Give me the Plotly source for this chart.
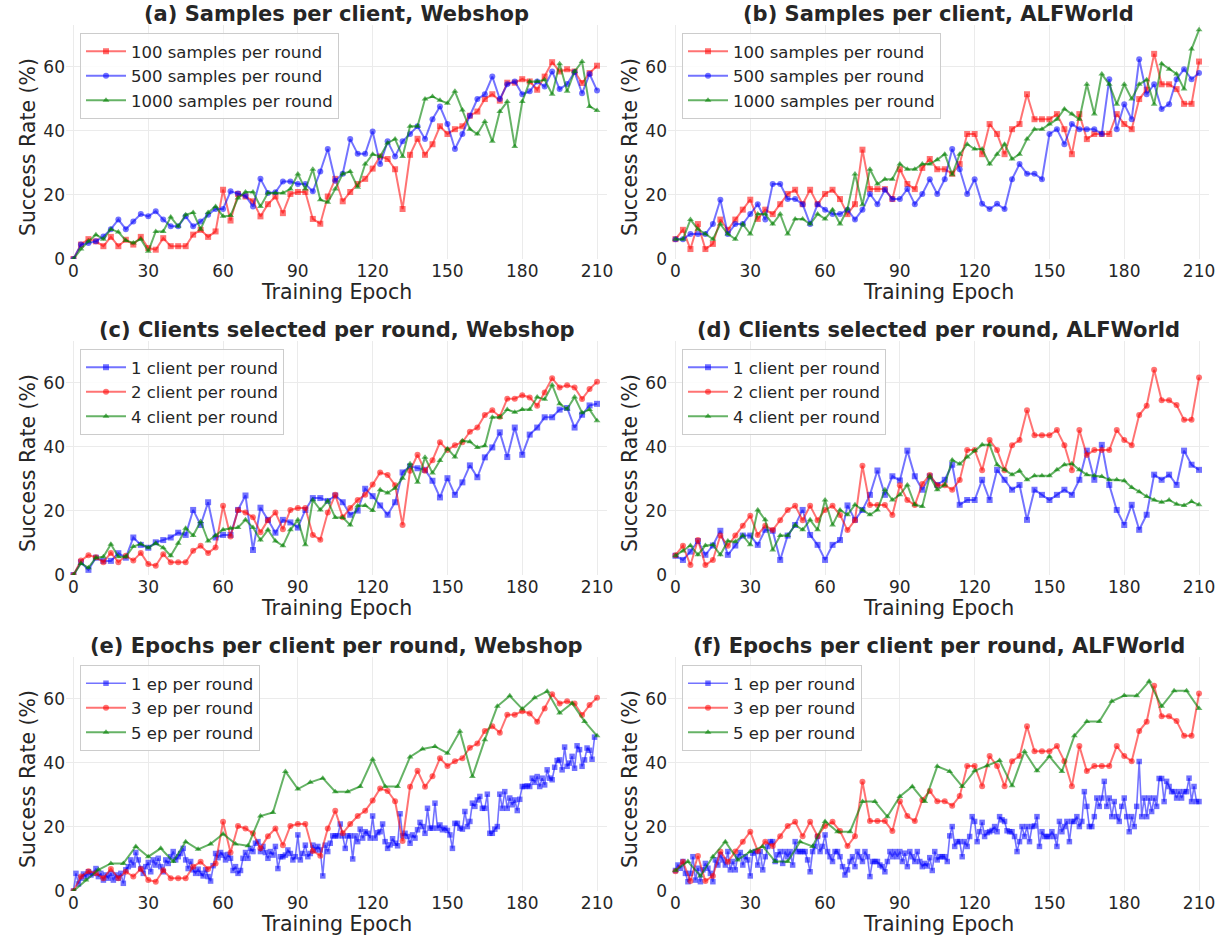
import plotly.graph_objects as go

# ---------------- data ----------------
EPOCHS_3 = list(range(0, 211, 3))
EPOCHS_5 = list(range(0, 211, 5))
EPOCHS_1 = list(range(0, 211))
X_TICKS = [0, 30, 60, 90, 120, 150, 180, 210]
Y_TICKS = [0, 20, 40, 60]

# Webshop default config (100 samples / 2 clients / 3 ep)
web_default = [0, 4.5, 6.2, 5.5, 4, 6.9, 4, 6, 4.5, 6.9, 3.4, 2.9, 6.5, 4, 4, 4, 7.6, 9.1, 6.9, 8.6,
               21.6, 12, 20.3, 19.5, 18, 13.3, 17.1, 19.5, 14.3, 20.3, 20.9, 20.9, 12.5,
               11, 19.5, 25, 18, 20.9, 23.4, 25, 28.2, 32, 31.2, 28, 15.6, 32.5, 37.5, 32.5, 35.8,
               41.4, 39, 40.5, 41.4, 44.7, 46, 49.9, 51.4, 49.4, 55, 55, 56.1, 55.4, 52.8, 56.9,
               61.4, 58.5, 59.2, 58.5, 54.9, 58, 60.3]
web_500 = [0, 4.5, 5, 5.5, 7, 9.3, 12.3, 9.3, 11.7, 14, 13.3, 14.9, 12.3, 10.2, 10.2, 13.3, 10.2,
           11.7, 13.8, 15.6, 15.6, 21.1, 20.4, 19.7, 16.4, 25, 20.6, 20.8, 24.2, 24.2, 23.4, 23.4, 21.1,
           27.3, 34.3, 24.4, 26.6, 37.4, 32.8, 32.8, 39.8, 29.6, 36.7, 32, 36.7, 39, 41.4, 37.4, 43.6,
           47.6, 42.1, 34.3, 39, 44.7, 49.9, 51.4, 56.9, 49.9, 54.5, 55.4, 51.4, 52.3, 55.4, 53.8,
           58.5, 53, 54.6, 58.3, 51.7, 57.7, 52.6]
web_1000 = [0, 3.1, 5.5, 7.6, 6.2, 9.3, 8.4, 5.8, 5, 6.2, 2.4, 8.6, 8.6, 13.1, 10.2, 13.8, 14.5, 9.3,
            14.5, 16.4, 13.3, 13.6, 19, 20.9, 20.9, 16.4, 20.6, 20.6, 20.6, 21.8, 26.5, 21.8, 28,
            18.5, 17.7, 21.8, 26.6, 27.3, 22.4, 29.6, 32.7, 32, 36.2, 37.4, 32, 41.4, 41.4, 49.9, 50.7,
            49.5, 48.6, 52.3, 46.5, 40.5, 39, 42.9, 36.7, 46, 49.1, 35.1, 49.1, 55.4, 55.4, 55.9,
            51.4, 60.9, 52.3, 58.5, 61.6, 47.6, 46.3]

# ALFWorld default config
alf_default = [6.2, 9.1, 3.1, 10.9, 3.1, 4.7, 12.3, 9.1, 12.3, 15.4, 18.5, 12.5, 15.4, 14, 17.1, 20.3,
               21.6, 17.1, 21.6, 17.1, 20.3, 21.6, 18.7, 14, 17.1, 34.1, 21.8, 21.8, 21.8, 18.7, 28,
               23.4, 21.8,
               28.4, 31.2, 28, 28, 26.6, 29.6, 39, 39, 32.7, 42.1, 39, 32.7, 40.5, 42.1, 51.4, 43.6,
               43.6, 43.6, 45.2, 40.5, 32.7, 45.2, 37.4, 39, 39, 39, 45.2, 42.1, 40.5, 49.9, 52.8,
               64, 54.5, 54.5, 53, 48.4, 48.4, 61.6]
alf_500 = [6.2, 6.2, 7.8, 7.8, 7.8, 10.9, 18.5, 7.8, 10.9, 10.9, 14, 17.1, 12.3, 23.4, 23.4, 18.7,
           18.7, 17.1, 10.9, 17.1, 15.4, 14, 14, 15.4, 12.3, 15.4, 20.3, 17.1, 21.6, 18.7, 18.7, 21.8,
           17.1,
           20.3, 24.9, 20.3, 24.9, 34.3, 28, 20.3, 24.9, 17.2, 15.6, 17.2, 15.6, 24.9, 29.6, 26.6,
           26.6, 24.9, 39, 40.5, 35.8, 42.1, 40.5, 40.5, 40.5, 39, 56.1, 40.5, 48.3, 43.6, 62.3,
           51.4, 54.5, 46.8, 48.3, 56.1, 59.2, 56.1, 58]
alf_1000 = [6.2, 6.2, 12.3, 9.3, 7.8, 6.2, 10.9, 7.8, 6.2, 10.9, 7.8, 14, 14, 10.9, 14, 7.8, 12.5,
            12.5, 10.9, 14, 12.5, 15.4, 10.9, 15.6, 26.5, 16.9, 28, 23.4, 24.9, 24.9, 29.6, 28, 28,
            29.6, 29.6, 31, 32.7, 26.3, 32.7, 35.8, 34.3, 34.3, 29.6, 32.7, 35.8, 31.2, 32.7, 37.4,
            40.5, 40.5, 42.1, 43.6, 46.8, 45.2, 43.6, 54.5, 45.2, 57.7, 54.5, 48.3, 54.5, 49.9, 54.5,
            55.9, 48.3, 60.9, 59.2, 57.7, 53, 65.5, 71.5]

web_1client = [0, 4, 1.6, 5.4, 4.4, 4.4, 6.8, 5.4, 11.7, 9.4, 8.5, 10.2, 10.9, 11.7, 13.2, 12.5, 20.3,
               15.6, 22.7, 11.7, 12.5, 12.5, 20.3, 24.8, 7.8, 21, 17.2, 13.2, 17.2, 16.4, 14.8, 20.3, 24,
               24, 23.1, 24.8, 22.7, 18.8, 20.1, 26.9, 24.6, 21.7, 18.8, 22.7, 32, 33.9, 33.3, 32.8,
               29.4, 24.2, 30.2, 25, 28.9, 34.2, 30.5, 36.7, 39.8, 44.5, 36.8, 46, 37.5, 43.8, 46,
               49.2, 49.2, 51.6, 52.1, 46, 50, 52.9, 53.4]
web_4client = [0, 3.6, 2.3, 5.4, 5.7, 9.6, 5.7, 5.7, 8.9, 9.7, 8.5, 9.9, 8.5, 6, 9.9, 14.6, 12.3,
               16.7, 10.6, 12.3, 14.1, 14.6, 14.8, 17.2, 14.8, 10.9, 14.1, 10.6, 9.1, 14.1, 17.2, 9.4,
               23.4,
               20.3, 23.1, 17.9, 17.9, 15.6, 21.6, 21.7, 20.1, 26.6, 25.6, 27.1, 30.2, 34.7, 28.9,
               36.7, 31.8, 35.7, 39.4, 36.8, 41.9, 41.6, 39.8, 40.3, 49.2, 49.2, 51.6, 50.8, 51.6,
               51.6, 55.5, 54.8, 59.3, 53.4, 51.8, 55.5, 50.6, 51.6, 48.1]
alf_1client = [6, 4.7, 7.3, 10.6, 6.3, 9.2, 13.8, 6.3, 9.2, 12.3, 12.3, 9.4, 14.1, 13.8, 4.7, 12.3,
               15.6, 20.3, 12.5, 9.4, 4.7, 9.4, 10.9, 21.7, 17.2, 20.3, 25, 32.6, 25, 30.8, 29.5,
               38.8, 30.8,
               26.6, 30.8, 28.1, 29.7, 34.4, 21.9, 23.4, 23.4, 29.7, 23.4, 32.8, 29.7, 26.6, 28.1,
               17.2, 26.6, 25, 23.4, 25, 26.6, 25, 29.7, 38.8, 29.7, 40.6, 28.1, 20.3, 15.6, 21.9,
               14.1, 18.8, 31.3, 29.7, 31.3, 28.1, 38.8, 34.4, 32.8]
alf_4client = [6, 7.5, 9.2, 6.3, 9.2, 9.4, 6.3, 10.6, 10.4, 12.3, 9.4, 20.3, 17.2, 7.8, 12.3, 12.3,
               15.6, 14.1, 17.2, 14.1, 23.4, 15.6, 20.3, 18.8, 21.9, 20.3, 18.8, 20.3, 26.6, 23.4, 25,
               28.1, 21.9,
               21.4, 30.8, 26.6, 28.1, 35.9, 34.6, 36.8, 38.8, 40.6, 40.6, 34.4, 32.8, 31.3, 32.5,
               29.7, 31, 31, 31, 32.8, 34.4, 34.7, 32.8, 31.3, 31, 30.7, 29.7, 29.7, 29.4, 27.3, 26,
               24.5, 23.4, 22.7, 23.4, 22.1, 21.7, 22.9, 21.9]

web_1ep = [0, 5.5, 2.2, 4, 5.3, 4.5, 6, 5, 5.5, 7,
           4.5, 5.5, 3.4, 5, 4, 5.5, 3.4, 5, 4, 5.5,
           2.4, 6.6, 7.6, 9.7, 8.1, 12, 9.7, 7, 5.5, 7.6,
           8.9, 6, 9.7, 8.1, 10.2, 7.6, 6, 9.7, 8.6, 10.7,
           12.3, 9.7, 10.7, 11.7, 13.3, 9.7, 7, 9.2, 6.6, 5.5,
           6.8, 5.5, 4.7, 6.6, 4.5, 3.1, 7.9, 11.7, 10.4, 12,
           11.2, 9.7, 11.4, 10.2, 6.4, 7.6, 5.5, 6.4, 10.2, 12,
           10.2, 13.3, 12.3, 14.9, 15.4, 12.3, 13.9, 12, 10.2, 12.3,
           11.2, 13.9, 7, 10.7, 10.7, 11.2, 12.8, 11.7, 9.7, 10.7,
           17.5, 9.7, 11.7, 14.3, 10.7, 11.7, 14.3, 12.8, 13.9, 12.8,
           4.7, 14.3, 12.3, 14.9, 17.2, 17.2, 17.2, 20.9, 17.2, 13.3,
           17.2, 17.2, 10.0, 17.2, 15.4, 19.3, 16.5, 18.5, 18.0, 16.5,
           23.4, 16.5, 18.2, 18.5, 20.9, 15.4, 13.3, 14.4, 16.3, 14.9,
           14.1, 24.1, 17.2, 18.0, 17.0, 14.9, 17.5, 16.5, 19.1, 21.4,
           20.1, 18.0, 25.8, 19.6, 19.6, 27.4, 19.6, 20.6, 19.1, 19.6,
           18.9, 17.5, 13.3, 21.1, 21.1, 19.6, 19.3, 24.8, 20.1, 21.7,
           27.4, 26.4, 28.4, 29.5, 25.8, 25.8, 30.2, 18.0, 18.0, 19.3,
           20.1, 30.2, 25.8, 31.0, 25.8, 29.0, 26.9, 28.4, 25.1, 28.6,
           32.6, 32.6, 32.8, 32.6, 35.2, 33.9, 35.7, 32.6, 35.2, 33.1,
           37.8, 35.2, 34.7, 38.6, 40.7, 40.9, 37.8, 44.9, 38.9, 39.9,
           42.0, 38.3, 45.3, 44.1, 38.9, 40.9, 44.6, 43.9, 41.1, 48.0]
web_5ep = [0, 3.4, 6.6, 8.6, 8.6, 13.9, 10.7, 13.3, 9.2, 15.4, 13, 14.7, 17.8, 14.7, 14.1, 23.4,
           24.5, 37.3, 31.8, 33.9, 35.2, 31, 31, 32.6, 41.1, 32.6, 32.6, 41.8, 44.3, 45.1, 43, 49.8,
           35.7, 47.2, 57.6, 60.9, 56.8, 60.3, 62.3, 55.5, 58.6, 52.9, 48.4]
alf_1ep = [6.4, 8.1, 7.1, 9.2, 5.5, 2.9, 5.5, 10.7, 3.4, 7.1,
           2.9, 6.6, 8.6, 7.1, 5.5, 2.9, 9.7, 8.1, 11.3, 9.7,
           8.1, 12.3, 6.6, 9.2, 6.6, 10.7, 12, 8.1, 10.7, 9.7,
           4.7, 11.8, 12.3, 8.1, 12.3, 6.6, 10.7, 13.9, 15.4, 15.4,
           9.2, 11.3, 12.3, 8.6, 12.3, 10.7, 12.3, 8.1, 15.4, 12.3,
           12.3, 12.3, 12.3, 9.7, 6, 12.3, 13.9, 17, 12.3, 13.9,
           17.5, 12.3, 10.7, 9.2, 12.3, 12.3, 10.7, 7.6, 5, 6.6,
           9.2, 10.7, 7.6, 12.3, 10.7, 9.2, 12.3, 10.7, 4.5, 9.2,
           9.2, 9.2, 8.1, 7.6, 6, 9.2, 12.3, 10.7, 12.3, 10.7,
           12.3, 9.2, 11.8, 7.6, 12.3, 10.7, 9.2, 12.3, 9.2, 7.6,
           8.6, 7.8, 10.4, 6.4, 12.3, 9.7, 10.7, 10.7, 10.7, 9.2,
           17.2, 20.1, 13.9, 15.4, 15.4, 10.7, 15.4, 13.9, 17, 23.2,
           21.7, 15.4, 18.5, 21.4, 17, 18.2, 18.5, 18.9, 20.1, 18.5,
           23.2, 22.2, 21.7, 18.8, 18.5, 18.5, 17, 12.3, 15.4, 20.1,
           17, 20.1, 15.4, 20.1, 20.3, 23.2, 13.9, 18.5, 17, 17,
           17, 18.5, 17, 13.9, 21.7, 18.5, 20.1, 21.7, 15.4, 21.7,
           21.7, 23.2, 20.1, 21.7, 31, 26.4, 20.1, 20.1, 23.2, 29,
           26.4, 29, 34.2, 26.4, 29, 23.2, 27.9, 23.2, 21.7, 26.4,
           29, 23.2, 18.5, 23.2, 20.1, 26.4, 40.4, 23.2, 29, 23.2,
           29, 24.8, 29, 26.4, 35.1, 35.1, 27.9, 34.2, 32.6, 31,
           31, 29, 31, 29, 31, 31, 35.2, 27.9, 32.6, 27.9, 27.9]
alf_5ep = [6.4, 9.2, 4.7, 10.7, 15.4, 9.7, 12.3, 13.9, 9.2, 9.2, 15.4, 13.9, 21.7, 18.5, 18.5, 27.9,
           27.9, 23.2, 29.5, 32.6, 27.9, 38.9, 37.3, 32.6, 37.5, 39.1, 40.7, 32.8, 43.5, 37.5, 42,
           37.3, 48.4, 52.9, 52.9, 59.2, 61, 60.9, 65.4, 57.6, 62.5, 62.5, 56.9]

TITLES = ["(a) Samples per client, Webshop", "(b) Samples per client, ALFWorld",
          "(c) Clients selected per round, Webshop", "(d) Clients selected per round, ALFWorld",
          "(e) Epochs per client per round, Webshop", "(f) Epochs per client per round, ALFWorld"]

RED = "rgba(255,0,0,0.55)"
BLUE = "rgba(0,0,255,0.55)"
GREEN = "rgba(0,128,0,0.6)"

# panel -> list of (name, x, y, color, symbol)
PANELS = [
    [("100 samples per round", EPOCHS_3, web_default, RED, "square"),
     ("500 samples per round", EPOCHS_3, web_500, BLUE, "circle"),
     ("1000 samples per round", EPOCHS_3, web_1000, GREEN, "triangle-up")],
    [("100 samples per round", EPOCHS_3, alf_default, RED, "square"),
     ("500 samples per round", EPOCHS_3, alf_500, BLUE, "circle"),
     ("1000 samples per round", EPOCHS_3, alf_1000, GREEN, "triangle-up")],
    [("1 client per round", EPOCHS_3, web_1client, BLUE, "square"),
     ("2 client per round", EPOCHS_3, web_default, RED, "circle"),
     ("4 client per round", EPOCHS_3, web_4client, GREEN, "triangle-up")],
    [("1 client per round", EPOCHS_3, alf_1client, BLUE, "square"),
     ("2 client per round", EPOCHS_3, alf_default, RED, "circle"),
     ("4 client per round", EPOCHS_3, alf_4client, GREEN, "triangle-up")],
    [("1 ep per round", EPOCHS_1, web_1ep, BLUE, "square"),
     ("3 ep per round", EPOCHS_3, web_default, RED, "circle"),
     ("5 ep per round", EPOCHS_5, web_5ep, GREEN, "triangle-up")],
    [("1 ep per round", EPOCHS_1, alf_1ep, BLUE, "square"),
     ("3 ep per round", EPOCHS_3, alf_default, RED, "circle"),
     ("5 ep per round", EPOCHS_5, alf_5ep, GREEN, "triangle-up")],
]

# ---------------- layout geometry (page pixels) ----------------
W, H = 1225, 937
COL_X = [(66, 607), (668, 1209)]
ROW_Y = [(25, 259), (341, 575), (657, 891)]
FONT = "DejaVu Sans"
TXT = "#262626"


def px(x):
    return x / W


def py(y):
    return 1 - y / H


fig = go.Figure()
layout = dict(
    width=W, height=H, margin=dict(l=0, r=0, t=0, b=0, autoexpand=False),
    paper_bgcolor="white", plot_bgcolor="white",
    font=dict(family=FONT, color=TXT),
    annotations=[],
)

for i, series in enumerate(PANELS):
    r, c = divmod(i, 2)
    ax = "" if i == 0 else str(i + 1)
    x0, x1 = COL_X[c]
    yt, yb = ROW_Y[r]
    leg = "legend" if i == 0 else f"legend{i + 1}"
    for name, xs, ys, col, sym in series:
        dense = len(xs) > 100
        fig.add_trace(go.Scatter(
            x=xs, y=ys, name=name, mode="lines+markers",
            line=dict(color=col, width=2 if not dense else 1.6),
            marker=dict(color=col, symbol=sym, size=6 if not dense else 5.5,
                        line=dict(width=0)),
            xaxis="x" + ax, yaxis="y" + ax, legend=leg,
        ))
    layout["xaxis" + ax] = dict(
        domain=[px(x0), px(x1)], anchor="y" + ax, range=[-3, 214], automargin=False,
        tickvals=X_TICKS, ticks="", showline=False, zeroline=False,
        gridcolor="#ebebeb", gridwidth=1, tickfont=dict(size=17, color=TXT),
    )
    layout["yaxis" + ax] = dict(
        domain=[py(yb), py(yt)], anchor="x" + ax, range=[0, 73], automargin=False,
        tickvals=Y_TICKS, ticks="", showline=False, zeroline=False,
        gridcolor="#ebebeb", gridwidth=1, tickfont=dict(size=17, color=TXT),
    )
    layout[leg] = dict(
        x=px(x0 + 14), y=py(yt + 8), xanchor="left", yanchor="top",
        bgcolor="rgba(255,255,255,0.85)", bordercolor="#cccccc", borderwidth=1,
        font=dict(size=16.5, family=FONT, color=TXT), tracegroupgap=0, itemwidth=40,
    )
    cx = (x0 + x1) / 2
    layout["annotations"] += [
        dict(text="<b>" + TITLES[i] + "</b>", x=px(cx), y=py(yt - 11),
             xref="paper", yref="paper", showarrow=False,
             font=dict(size=21, family=FONT, color=TXT), xanchor="center", yanchor="middle"),
        dict(text="Training Epoch", x=px(cx), y=py(yb + 33),
             xref="paper", yref="paper", showarrow=False,
             font=dict(size=20.5, family=FONT, color=TXT), xanchor="center", yanchor="middle"),
        dict(text="Success Rate (%)", x=px(x0 - 38), y=py((yt + yb) / 2 + 5),
             xref="paper", yref="paper", showarrow=False, textangle=-90,
             font=dict(size=20.5, family=FONT, color=TXT), xanchor="center", yanchor="middle"),
    ]

fig.update_layout(**layout)
# remove the default 8px page margin so the figure fills the window exactly
fig.write_html("out.html",
               config={"displayModeBar": False},
               post_script="document.body.style.margin='0';document.body.style.overflow='hidden';")
